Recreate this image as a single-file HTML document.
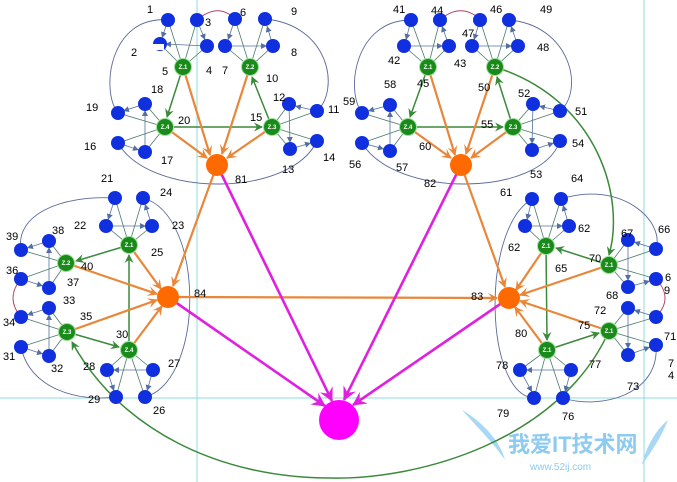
<!DOCTYPE html>
<html><head><meta charset="utf-8"><style>
html,body{margin:0;padding:0;background:#fff;}
svg{display:block;font-family:"Liberation Sans","Noto Sans CJK SC",sans-serif;}
.t{font-size:11px;fill:#000;}
.e{stroke:#4a7a6a;stroke-width:0.8;fill:none;}
.b{stroke:#5570a0;stroke-width:0.8;fill:none;}
.a{stroke:#5a6a9a;stroke-width:0.9;fill:none;}
.o{stroke:#e8873a;stroke-width:2.2;fill:none;}
.m{stroke:#e020e0;stroke-width:2.6;fill:none;}
.g{stroke:#3a8a3a;stroke-width:1.5;fill:none;}
.n{fill:#1030e0;}
.z{fill:#1a8a1a;stroke:#9be09b;stroke-width:1;}
.zt{font-size:6px;fill:#fff;font-weight:bold;}
</style></head><body>
<svg width="677" height="482" viewBox="0 0 677 482" xmlns="http://www.w3.org/2000/svg">
<defs>
<marker id="ao" markerWidth="10" markerHeight="10" refX="9" refY="5" orient="auto" markerUnits="userSpaceOnUse"><path d="M0,0 L10,5 L0,10 L4,5z" fill="#e8873a"/></marker>
<marker id="am" markerWidth="14" markerHeight="14" refX="13" refY="7" orient="auto" markerUnits="userSpaceOnUse"><path d="M0,0 L14,7 L0,14 L5,7z" fill="#e020e0"/></marker>
<marker id="ag" markerWidth="9" markerHeight="9" refX="8" refY="4.5" orient="auto" markerUnits="userSpaceOnUse"><path d="M0,0 L9,4.5 L0,9 L3,4.5z" fill="#3a8a3a"/></marker>
<marker id="ab" markerWidth="6" markerHeight="6" refX="6" refY="3" orient="auto" markerUnits="userSpaceOnUse"><path d="M0,0 L6,3 L0,6z" fill="#5570a0"/></marker>
</defs>

<!-- guide lines -->
<line x1="197" y1="0" x2="197" y2="482" stroke="#8fdede" stroke-width="1"/>
<line x1="644" y1="0" x2="644" y2="482" stroke="#8fdede" stroke-width="1"/>
<line x1="0" y1="398" x2="677" y2="398" stroke="#8fdede" stroke-width="1"/>

<!-- watermark -->
<text x="508" y="452" style="font-size:22px;fill:#8ecbf0;font-weight:bold">我爱IT技术网</text>
<text x="530" y="470" style="font-size:10px;fill:#8ecbf0">www.52ij.com</text>
<path d="M462,410 C480,420 500,440 505,460 C495,445 480,430 462,410z" fill="#a8d8f5"/>
<path d="M668,420 C655,430 645,450 642,465 C652,450 660,440 668,420z" fill="#a8d8f5"/>

<!-- outer arcs -->
<g class="a">
<path d="M168,20 C110,15 100,90 118,113"/>
<path d="M265,19 C330,25 340,90 317,111"/>
<path d="M118,143 C150,198 290,198 317,141"/>
<path d="M411,20 C355,20 345,90 362,113"/>
<path d="M509,20 C570,25 585,90 560,111"/>
<path d="M362,143 C395,198 540,198 560,141"/>
<path d="M115,198 C60,195 15,215 21,250"/>
<path d="M143,198 C205,215 205,380 145,397"/>
<path d="M21,347 C30,390 80,402 116,397"/>
<path d="M532,199 C480,230 485,395 534,398"/>
<path d="M561,199 C620,180 665,220 656,249"/>
<path d="M656,345 C660,395 600,410 563,398"/>
<path d="M360,175 C420,200 520,205 560,190" opacity="0"/>
</g>
<g stroke="#b04060" stroke-width="0.9" fill="none">
<path d="M197,20 Q218,2 235,19"/>
<path d="M440,20 Q460,2 480,19"/>
<path d="M21,279 Q5,298 21,317"/>
<path d="M656,279 Q674,298 656,317"/>
</g>

<!-- thin edges: blue nodes to Z -->
<g class="e">
<path d="M168,20L183,67M197,20L183,67M160,44L183,67M207,46L183,67"/>
<path d="M235,19L250,67M265,19L250,67M225,46L250,67M273,46L250,67"/>
<path d="M118,113L165,127M145,104L165,127M118,143L165,127M145,152L165,127"/>
<path d="M289,104L272,127M317,111L272,127M290,149L272,127M317,141L272,127"/>
<path d="M411,20L428,67M440,20L428,67M404,46L428,67M449,46L428,67"/>
<path d="M480,20L495,67M509,20L495,67M472,46L495,67M518,46L495,67"/>
<path d="M362,113L408,127M390,105L408,127M362,143L408,127M390,151L408,127"/>
<path d="M533,104L513,127M560,111L513,127M532,150L513,127M560,141L513,127"/>
<path d="M115,198L129,245M143,198L129,245M106,226L129,245M152,226L129,245"/>
<path d="M21,250L66,263M49,241L66,263M21,279L66,263M49,288L66,263"/>
<path d="M21,317L67,332M49,308L67,332M21,347L67,332M49,356L67,332"/>
<path d="M107,370L129,350M153,370L129,350M116,397L129,350M145,397L129,350"/>
<path d="M532,199L546,246M561,199L546,246M525,226L546,246M569,226L546,246"/>
<path d="M628,240L609,265M656,249L609,265M628,287L609,265M656,279L609,265"/>
<path d="M628,308L609,331M656,317L609,331M628,355L609,331M656,345L609,331"/>
<path d="M520,370L547,350M571,370L547,350M534,398L547,350M563,398L547,350"/>
</g>
<!-- inner blue arrows -->
<g class="b" marker-end="url(#ab)">
<path d="M168,20L162,38"/><path d="M207,46L165,44"/><path d="M197,20L205,40"/>
<path d="M235,19L228,40"/><path d="M225,46L267,46"/><path d="M273,46L267,26"/>
<path d="M145,104L123,111"/><path d="M145,152L145,110"/><path d="M118,143L139,150"/>
<path d="M317,111L295,106"/><path d="M289,104L290,143"/><path d="M290,149L311,143"/>
<path d="M411,20L406,40"/><path d="M404,46L443,46"/><path d="M449,46L442,26"/>
<path d="M480,20L474,40"/><path d="M472,46L512,46"/><path d="M518,46L511,26"/>
<path d="M390,105L368,111"/><path d="M390,151L390,111"/><path d="M362,143L384,149"/>
<path d="M560,111L539,106"/><path d="M533,104L532,144"/><path d="M532,150L554,143"/>
<path d="M115,198L108,220"/><path d="M106,226L146,226"/><path d="M152,226L145,204"/>
<path d="M49,241L27,248"/><path d="M49,288L49,247"/><path d="M21,279L43,286"/>
<path d="M49,308L27,315"/><path d="M49,356L49,314"/><path d="M21,347L43,354"/>
<path d="M153,370L113,370"/><path d="M107,370L114,391"/><path d="M153,370L147,391"/>
<path d="M532,199L527,220"/><path d="M525,226L563,226"/><path d="M569,226L563,205"/>
<path d="M656,249L634,242"/><path d="M628,240L628,281"/><path d="M628,287L650,281"/>
<path d="M656,317L634,310"/><path d="M628,308L628,349"/><path d="M628,355L650,347"/>
<path d="M571,370L526,370"/><path d="M520,370L532,392"/><path d="M571,370L565,392"/>
</g>

<!-- green long arcs -->
<path class="g" d="M495,67 C600,100 625,200 609,255" marker-end="url(#ag)" stroke-width="1.2"/>
<path class="g" d="M609,331 C560,440 420,480 330,478 C220,478 120,430 72,342" marker-end="url(#ag)" stroke-width="1.2"/>

<!-- green Z arrows -->
<g class="g" marker-end="url(#ag)">
<path d="M183,67L167,117"/><path d="M165,127L262,127"/><path d="M272,127L252,77"/>
<path d="M428,67L410,117"/><path d="M408,127L503,127"/><path d="M513,127L497,77"/>
<path d="M129,245L76,261"/><path d="M67,332L119,347"/><path d="M129,350L129,255"/>
<path d="M609,265L556,248"/><path d="M546,246L547,340"/><path d="M547,350L599,333"/>
</g>

<!-- orange arrows -->
<g class="o" marker-end="url(#ao)">
<path d="M183,67L210,155"/><path d="M250,67L222,154"/><path d="M165,127L207,158"/><path d="M272,127L227,158"/>
<path d="M428,67L455,155"/><path d="M495,67L466,154"/><path d="M408,127L451,158"/><path d="M513,127L471,158"/>
<path d="M129,245L161,289"/><path d="M66,263L157,294"/><path d="M67,332L157,300"/><path d="M129,350L162,306"/>
<path d="M546,246L516,290"/><path d="M609,265L520,295"/><path d="M609,331L520,301"/><path d="M547,350L515,307"/>
<path d="M217,165L173,286"/><path d="M461,165L505,287"/><path d="M168,297L497,298"/>
</g>
<!-- magenta -->
<g class="m" marker-end="url(#am)">
<path d="M217,165L332,401"/><path d="M461,165L344,400"/><path d="M168,297L325,406"/><path d="M509,298L353,405"/>
</g>

<!-- nodes -->
<g class="n">
<circle cx="168" cy="20" r="7"/><circle cx="197" cy="20" r="7"/><circle cx="160" cy="44" r="7"/><circle cx="207" cy="46" r="7"/>
<circle cx="235" cy="19" r="7"/><circle cx="265" cy="19" r="7"/><circle cx="225" cy="46" r="7"/><circle cx="273" cy="46" r="7"/>
<circle cx="118" cy="113" r="7"/><circle cx="145" cy="104" r="7"/><circle cx="118" cy="143" r="7"/><circle cx="145" cy="152" r="7"/>
<circle cx="289" cy="104" r="7"/><circle cx="317" cy="111" r="7"/><circle cx="290" cy="149" r="7"/><circle cx="317" cy="141" r="7"/>
<circle cx="411" cy="20" r="7"/><circle cx="440" cy="20" r="7"/><circle cx="404" cy="46" r="7"/><circle cx="449" cy="46" r="7"/>
<circle cx="480" cy="20" r="7"/><circle cx="509" cy="20" r="7"/><circle cx="472" cy="46" r="7"/><circle cx="518" cy="46" r="7"/>
<circle cx="362" cy="113" r="7"/><circle cx="390" cy="105" r="7"/><circle cx="362" cy="143" r="7"/><circle cx="390" cy="151" r="7"/>
<circle cx="533" cy="104" r="7"/><circle cx="560" cy="111" r="7"/><circle cx="532" cy="150" r="7"/><circle cx="560" cy="141" r="7"/>
<circle cx="115" cy="198" r="7"/><circle cx="143" cy="198" r="7"/><circle cx="106" cy="226" r="7"/><circle cx="152" cy="226" r="7"/>
<circle cx="21" cy="250" r="7"/><circle cx="49" cy="241" r="7"/><circle cx="21" cy="279" r="7"/><circle cx="49" cy="288" r="7"/>
<circle cx="21" cy="317" r="7"/><circle cx="49" cy="308" r="7"/><circle cx="21" cy="347" r="7"/><circle cx="49" cy="356" r="7"/>
<circle cx="107" cy="370" r="7"/><circle cx="153" cy="370" r="7"/><circle cx="116" cy="397" r="7"/><circle cx="145" cy="397" r="7"/>
<circle cx="532" cy="199" r="7"/><circle cx="561" cy="199" r="7"/><circle cx="525" cy="226" r="7"/><circle cx="569" cy="226" r="7"/>
<circle cx="628" cy="240" r="7"/><circle cx="656" cy="249" r="7"/><circle cx="628" cy="287" r="7"/><circle cx="656" cy="279" r="7"/>
<circle cx="628" cy="308" r="7"/><circle cx="656" cy="317" r="7"/><circle cx="628" cy="355" r="7"/><circle cx="656" cy="345" r="7"/>
<circle cx="520" cy="370" r="7"/><circle cx="571" cy="370" r="7"/><circle cx="534" cy="398" r="7"/><circle cx="563" cy="398" r="7"/>
</g>
<rect x="150" y="44" width="14" height="6" fill="#fff"/>
<g class="z">
<circle cx="183" cy="67" r="8.5"/><circle cx="250" cy="67" r="8.5"/><circle cx="165" cy="127" r="8.5"/><circle cx="272" cy="127" r="8.5"/>
<circle cx="428" cy="67" r="8.5"/><circle cx="495" cy="67" r="8.5"/><circle cx="408" cy="127" r="8.5"/><circle cx="513" cy="127" r="8.5"/>
<circle cx="129" cy="245" r="8.5"/><circle cx="66" cy="263" r="8.5"/><circle cx="67" cy="332" r="8.5"/><circle cx="129" cy="350" r="8.5"/>
<circle cx="546" cy="246" r="8.5"/><circle cx="609" cy="265" r="8.5"/><circle cx="609" cy="331" r="8.5"/><circle cx="547" cy="350" r="8.5"/>
</g>
<g class="zt" text-anchor="middle">
<text x="183" y="69">Z.1</text><text x="250" y="69">Z.2</text><text x="165" y="129">Z.4</text><text x="272" y="129">Z.3</text>
<text x="428" y="69">Z.1</text><text x="495" y="69">Z.2</text><text x="408" y="129">Z.4</text><text x="513" y="129">Z.3</text>
<text x="129" y="247">Z.1</text><text x="66" y="265">Z.2</text><text x="67" y="334">Z.3</text><text x="129" y="352">Z.4</text>
<text x="546" y="248">Z.1</text><text x="609" y="267">Z.1</text><text x="609" y="333">Z.1</text><text x="547" y="352">Z.1</text>
</g>
<g fill="#ff6a00">
<circle cx="217" cy="165" r="11"/><circle cx="461" cy="165" r="11"/><circle cx="168" cy="297" r="11"/><circle cx="509" cy="298" r="11"/>
</g>
<circle cx="339" cy="420" r="20" fill="#ff00ff"/>

<!-- labels -->
<g class="t">
<text x="147" y="13">1</text><text x="205" y="26">3</text><text x="131" y="56">2</text><text x="162" y="75">5</text><text x="206" y="74">4</text>
<text x="222" y="74">7</text><text x="240" y="16">6</text><text x="291" y="15">9</text><text x="291" y="56">8</text><text x="266" y="82">10</text>
<text x="151" y="93">18</text><text x="273" y="101">12</text><text x="328" y="113">11</text><text x="178" y="124">20</text><text x="250" y="121">15</text>
<text x="86" y="111">19</text><text x="84" y="150">16</text><text x="161" y="164">17</text><text x="282" y="173">13</text><text x="323" y="161">14</text>
<text x="235" y="183">81</text>
<text x="393" y="13">41</text><text x="431" y="14">44</text><text x="490" y="13">46</text><text x="540" y="13">49</text><text x="462" y="37">47</text>
<text x="388" y="64">42</text><text x="454" y="67">43</text><text x="537" y="51">48</text><text x="417" y="87">45</text><text x="478" y="91">50</text>
<text x="384" y="88">58</text><text x="518" y="97">52</text><text x="575" y="115">51</text><text x="343" y="105">59</text><text x="481" y="128">55</text>
<text x="419" y="150">60</text><text x="349" y="168">56</text><text x="396" y="171">57</text><text x="572" y="147">54</text><text x="530" y="178">53</text>
<text x="424" y="187">82</text><text x="571" y="182">64</text>
<text x="101" y="182">21</text><text x="160" y="196">24</text><text x="74" y="229">22</text><text x="172" y="229">23</text><text x="52" y="234">38</text>
<text x="6" y="240">39</text><text x="151" y="256">25</text><text x="81" y="270">40</text><text x="6" y="274">36</text><text x="67" y="286">37</text>
<text x="63" y="304">33</text><text x="3" y="326">34</text><text x="80" y="320">35</text><text x="116" y="338">30</text><text x="3" y="360">31</text>
<text x="51" y="372">32</text><text x="83" y="370">28</text><text x="168" y="367">27</text><text x="88" y="403">29</text><text x="153" y="414">26</text>
<text x="194" y="297">84</text>
<text x="500" y="196">61</text><text x="578" y="232">62</text><text x="508" y="251">62</text><text x="621" y="237">67</text><text x="658" y="233">66</text>
<text x="589" y="262">70</text><text x="555" y="272">65</text><text x="665" y="281">6</text><text x="664" y="294">9</text><text x="606" y="299">68</text>
<text x="594" y="314">72</text><text x="578" y="329">75</text><text x="515" y="337">80</text><text x="664" y="340">71</text><text x="668" y="367">7</text>
<text x="668" y="379">4</text><text x="496" y="369">78</text><text x="589" y="368">77</text><text x="627" y="390">73</text><text x="497" y="417">79</text>
<text x="562" y="420">76</text><text x="471" y="300">83</text>
</g>
</svg>
</body></html>
